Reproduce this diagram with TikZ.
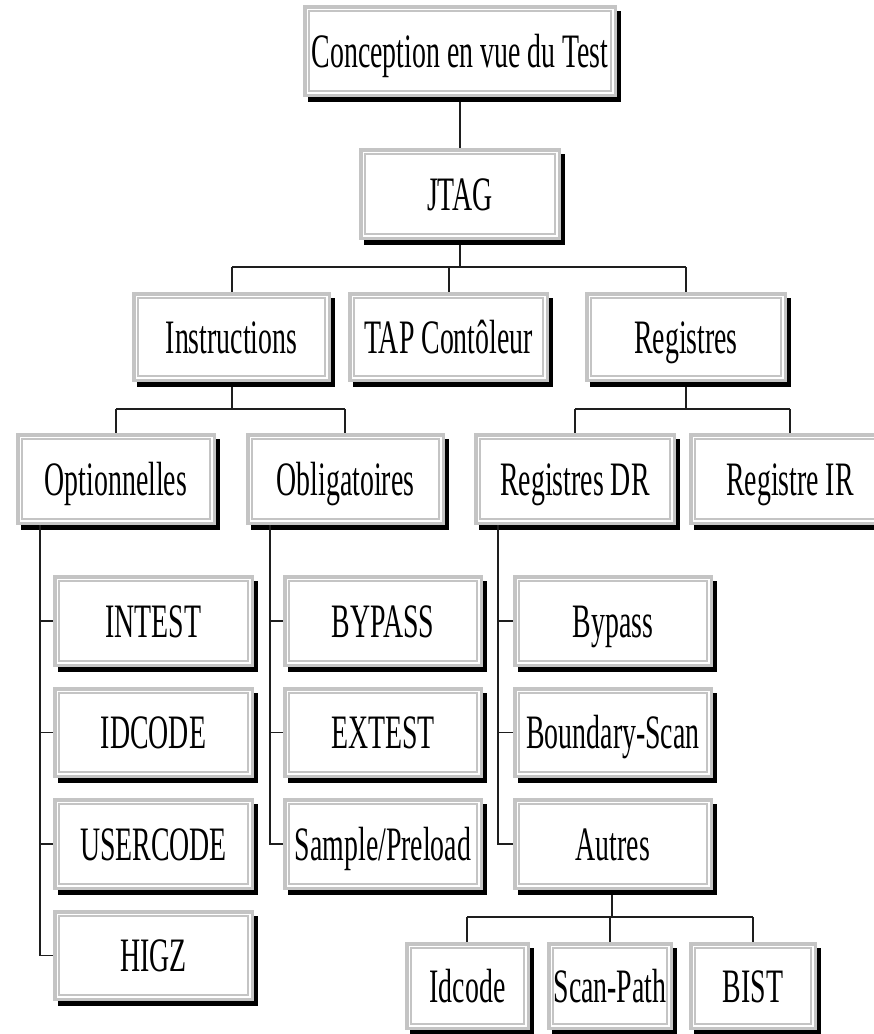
\documentclass[tikz,border=0pt]{standalone}
\usepackage{fontspec}
\setmainfont{Liberation Serif}[FakeStretch=0.58]
\definecolor{boxgray}{RGB}{196,196,196}
\definecolor{wire}{RGB}{30,30,30}
\tikzset{
  wireV/.style={draw=wire, line width=1.2pt},
  wireH/.style={draw=wire, line width=1.8pt},
  boxshadow/.style={fill=black},
  boxrim/.style={draw=boxgray, line width=3.5pt},
  boxinner/.style={draw=boxgray, line width=1.2pt},
  boxlabel/.style={font=\fontsize{48}{50}\selectfont, anchor=base, inner sep=0pt},
  boxarea/.style={inner sep=0pt, outer sep=0pt}
}
% \jtbox{name}{x1}{y1}{x2}{y2}{text}: framed box with drop shadow
\newcommand\jtbox[6]{%
  \fill[boxshadow] ({#2+5},{#3+6}) rectangle ({#4+4},{#5+5});
  \fill[white] (#2,#3) rectangle (#4,#5);
  \draw[boxrim] ({#2+1.75},{#3+1.75}) rectangle ({#4-1.75},{#5-1.75});
  \draw[boxinner] ({#2+6},{#3+6}) rectangle ({#4-6},{#5-6});
  \node[boxarea, minimum width={#4-#2}, minimum height={#5-#3}] (#1) at ({(#2+#4)/2},{(#3+#5)/2}) {};
  \node[boxlabel, yshift=-16pt] at (#1.center) {#6};
}
\begin{document}
\begin{tikzpicture}[x=1pt, y=-1pt]
\useasboundingbox (0,0) rectangle (874,1034);
\clip (0,0) rectangle (874,1034);

% levels of the horizontal bars
\coordinate (bar1) at (0,267);
\coordinate (bar2) at (0,409);
\coordinate (bar3) at (0,917);

% connectors
\draw[wireV] (460,97) coordinate (topfoot) -- (460,148);
\draw[wireV] (460,240) -- (460,267);
\draw[wireH] (232,267) -- (686,267);
\draw[wireV] (232,267) -- (232,292);
\draw[wireV] (449,267) -- (449,292);
\draw[wireV] (686,267) -- (686,292);

\draw[wireV] (232,382) -- (232,409);
\draw[wireH] (116,409) -- (345,409);
\draw[wireV] (116,409) -- (116,433);
\draw[wireV] (345,409) -- (345,433);

\draw[wireV] (686,382) -- (686,409);
\draw[wireH] (575,409) -- (790,409);
\draw[wireV] (575,409) -- (575,433);
\draw[wireV] (790,409) -- (790,433);

\draw[wireV] (612,890) -- (612,917);
\draw[wireH] (467,917) -- (753,917);
\draw[wireV] (467,917) -- (467,942);
\draw[wireV] (610,917) -- (610,942);
\draw[wireV] (753,917) -- (753,942);

% boxes
\jtbox{top}{303}{5}{617}{97}{Conception en vue du Test}
\jtbox{jtag}{359}{148}{561}{240}{JTAG}
\jtbox{instr}{132}{292}{331}{382}{Instructions}
\jtbox{tap}{348}{292}{549}{382}{TAP Contôleur}
\jtbox{regs}{585}{292}{787}{382}{Registres}
\jtbox{opt}{16}{433}{216}{525}{Optionnelles}
\jtbox{obl}{246}{433}{445}{525}{Obligatoires}
\jtbox{regdr}{474}{433}{676}{525}{Registres DR}
\jtbox{regir}{689}{433}{891}{525}{Registre IR}

\jtbox{intest}{53}{575}{254}{667}{INTEST}
\jtbox{idcode}{53}{687}{254}{778}{IDCODE}
\jtbox{usercode}{53}{798}{254}{890}{USERCODE}
\jtbox{higz}{53}{910}{254}{1001}{HIGZ}

\jtbox{bypass}{283}{575}{483}{667}{BYPASS}
\jtbox{extest}{283}{687}{483}{778}{EXTEST}
\jtbox{sample}{283}{798}{483}{890}{Sample/Preload}

\jtbox{bypassreg}{513}{575}{713}{667}{Bypass}
\jtbox{bscan}{513}{687}{713}{778}{Boundary-Scan}
\jtbox{autres}{513}{798}{713}{890}{Autres}

\jtbox{idc}{405}{942}{530}{1030}{Idcode}
\jtbox{scanpath}{547}{942}{673}{1030}{Scan-Path}
\jtbox{bist}{689}{942}{817}{1030}{BIST}

% side rails feeding the lists
\coordinate (railopt) at ([xshift=24pt]opt.south west);
\coordinate (railobl) at ([xshift=24pt]obl.south west);
\coordinate (raildr) at ([xshift=24pt]regdr.south west);
\draw[wireV] (railopt) |- (higz.west);
\draw[wireV] (railopt |- intest.west) -- (intest.west);
\draw[wireV] (railopt |- idcode.west) -- (idcode.west);
\draw[wireV] (railopt |- usercode.west) -- (usercode.west);
\draw[wireV] (railobl) |- (sample.west);
\draw[wireV] (railobl |- bypass.west) -- (bypass.west);
\draw[wireV] (railobl |- extest.west) -- (extest.west);
\draw[wireV] (raildr) |- (autres.west);
\draw[wireV] (raildr |- bypassreg.west) -- (bypassreg.west);
\draw[wireV] (raildr |- bscan.west) -- (bscan.west);
\end{tikzpicture}
\end{document}
